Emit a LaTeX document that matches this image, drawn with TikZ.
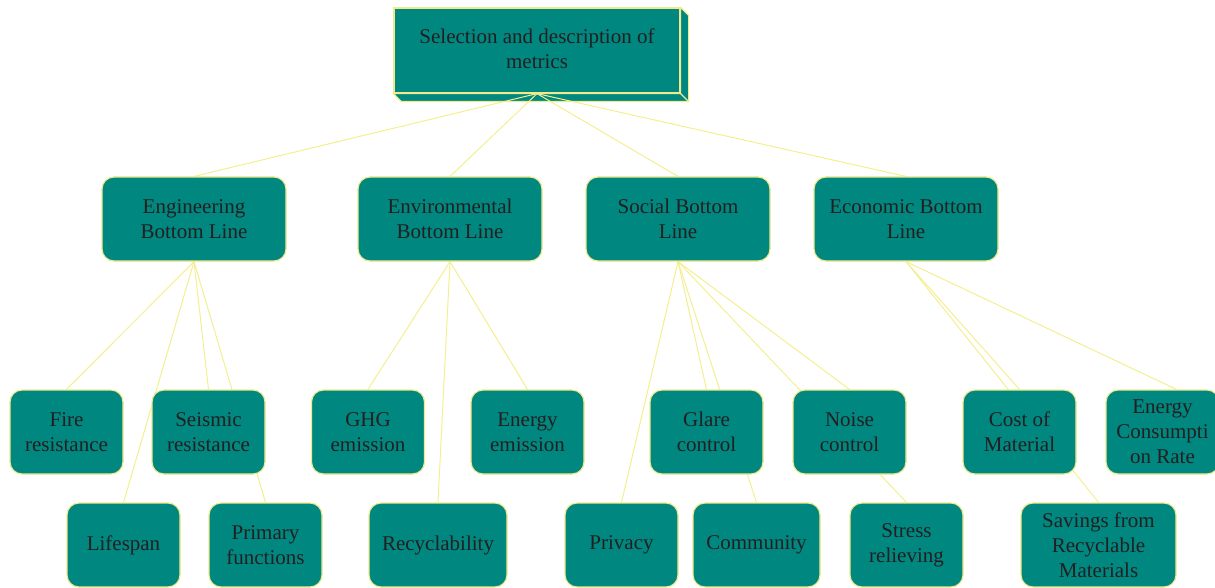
\documentclass[tikz,border=0pt]{standalone}
\usepackage{fontspec}
\setmainfont{Liberation Serif}
\usetikzlibrary{backgrounds}
\definecolor{boxfill}{RGB}{0,135,128}
\definecolor{boxline}{RGB}{240,234,140}
\definecolor{linkcol}{RGB}{245,238,143}
\definecolor{textdark}{RGB}{35,31,32}

\begin{document}
\begin{tikzpicture}[
        x=1pt, y=-1pt,
        every node/.style={font=\fontsize{21}{25}\selectfont, text=textdark, align=center},
        box/.style={draw=boxline, fill=boxfill, line width=1.2pt, rounded corners=12pt,
            minimum width=113pt, minimum height=84pt, inner sep=0pt},
        topbox/.style={draw=boxline, fill=boxfill, line width=1.2pt,
            minimum width=286pt, minimum height=85pt, inner sep=0pt},
        link/.style={draw=linkcol, line width=1pt}
    ]
    \useasboundingbox (0,0) rectangle (1215,588);
    \clip (0,0) rectangle (1215,588);

    % root
    \node[topbox] (root) at (537,50.5) {Selection and description of\\metrics\vphantom{p}};

    % bottom lines
    \node[box, minimum width=184pt] (eng) at (194,219) {Engineering\\Bottom Line};
    \node[box, minimum width=184pt] (env) at (450,219) {Environmental\\Bottom Line};
    \node[box, minimum width=184pt] (soc) at (678,219) {Social Bottom\\Line};
    \node[box, minimum width=184pt] (eco) at (906,219) {Economic Bottom\\Line};

    % metrics, upper row
    \node[box] (fire) at (66.5,432) {Fire\\resistance};
    \node[box] (seis) at (208.5,432) {Seismic\\resistance};
    \node[box] (ghg) at (368,432) {GHG\\emission};
    \node[box] (eem) at (527.5,432) {Energy\\emission};
    \node[box] (glare) at (706.5,432) {Glare\\control};
    \node[box] (noise) at (849.5,432) {Noise\\control};
    \node[box] (cost) at (1019.5,432) {Cost of\\Material};
    \node[box] (ecr) at (1162.5,432) {Energy\\Consumpti\\on Rate};

    % metrics, lower row
    \node[box] (life) at (123.5,545) {Lifespan};
    \node[box] (prim) at (265.5,545) {Primary\\functions};
    \node[box, minimum width=138pt] (recy) at (438,545) {Recyclability};
    \node[box] (priv) at (621.5,545) {Privacy};
    \node[box, minimum width=127pt] (comm) at (756.5,545) {Community};
    \node[box] (stress) at (906.5,545) {Stress\\relieving};
    \node[box, minimum width=155pt] (sav) at (1098.5,545) {Savings from\\Recyclable\\Materials};

    \begin{scope}[on background layer]
        % depth of the root box
        \filldraw[draw=boxline, fill=boxfill, line width=1.2pt, line join=round]
            (root.north east) -- ([shift={(8,8)}]root.north east)
            -- ([shift={(8,8)}]root.south east) -- ([shift={(8,8)}]root.south west)
            -- (root.south west) -- (root.south east) -- cycle;
        \draw[draw=boxline, line width=1.2pt] (root.south east) -- ([shift={(8,8)}]root.south east);

        \draw[link] (root.south) -- (eng.north);
        \draw[link] (root.south) -- (env.north);
        \draw[link] (root.south) -- (soc.north);
        \draw[link] (root.south) -- (eco.north);

        \draw[link] (eng.south) -- (fire.north);
        \draw[link] (eng.south) -- (seis.north);
        \draw[link] (eng.south) -- (life.north);
        \draw[link] (eng.south) -- (prim.north);

        \draw[link] (env.south) -- (ghg.north);
        \draw[link] (env.south) -- (eem.north);
        \draw[link] (env.south) -- (recy.north);

        \draw[link] (soc.south) -- (glare.north);
        \draw[link] (soc.south) -- (noise.north);
        \draw[link] (soc.south) -- (priv.north);
        \draw[link] (soc.south) -- (comm.north);
        \draw[link] (soc.south) -- (stress.north);

        \draw[link] (eco.south) -- (cost.north);
        \draw[link] (eco.south) -- ([xshift=14pt]ecr.north);
        \draw[link] (eco.south) -- (sav.north);
    \end{scope}

\end{tikzpicture}
\end{document}
